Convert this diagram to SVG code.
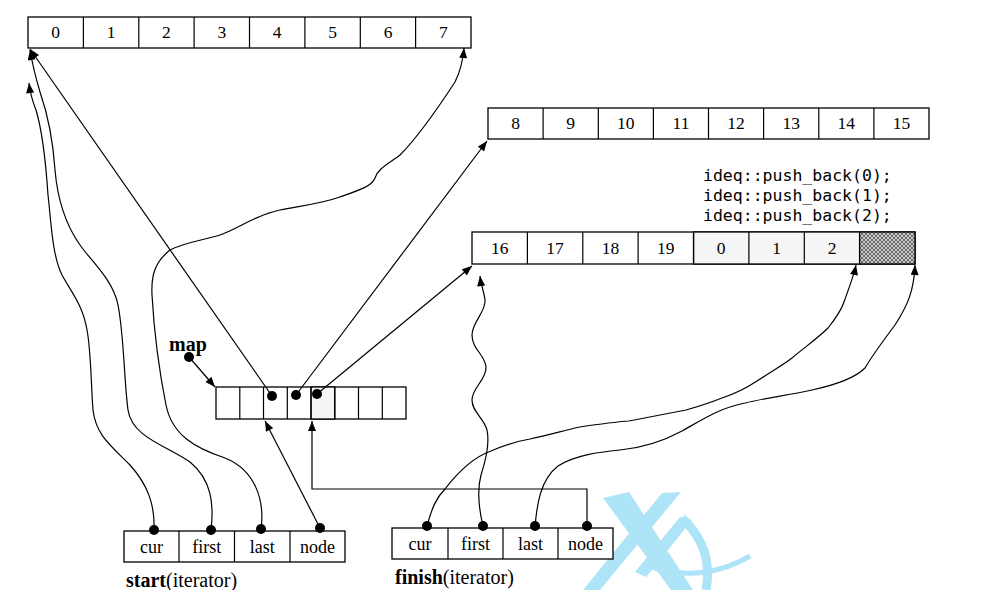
<svg xmlns="http://www.w3.org/2000/svg" width="986" height="590" viewBox="0 0 986 590">
<style>
.cell{fill:#fff;stroke:#000;stroke-width:1.3}
.lite{fill:#f5f5f5;stroke:#000;stroke-width:1.3}
.hatch{fill:url(#xh);stroke:#000;stroke-width:1.3}
.num{font-family:"Liberation Serif",serif;font-size:17.5px;text-anchor:middle;fill:#000}
.lbl{font-family:"Liberation Serif",serif;font-size:18px;text-anchor:middle;fill:#000}
.cap{font-family:"Liberation Serif",serif;font-size:20px;fill:#000}
.b{font-weight:bold}
.code{font-family:"DejaVu Sans Mono","Liberation Mono",monospace;font-size:16.5px;fill:#000}
.ln{fill:none;stroke:#000;stroke-width:1.2}
.dot{fill:#000}
.wm{fill:#aee4f8;stroke:none}
.wms{fill:none;stroke:#aee4f8}
</style>
<defs>
<marker id="arr" viewBox="0 0 10 8" refX="10" refY="4" markerWidth="11" markerHeight="8" markerUnits="userSpaceOnUse" orient="auto">
<path d="M0,0 L10,4 L0,8 z" fill="#000"/>
</marker>
<pattern id="xh" width="4" height="4" patternUnits="userSpaceOnUse">
<rect width="4" height="4" fill="#c8c8c8"/>
<path d="M0,0 L4,4 M4,0 L0,4" stroke="#555" stroke-width="0.8"/>
</pattern>
</defs>

<g id="watermark">
<polygon class="wm" points="603,498 629,492 693,590 671,590"/>
<polygon class="wm" points="662,493 681,492 600,590 583,590"/>
<polygon class="wm" points="635,572 646,577 692,520 680,517"/>
<path class="wms" stroke-width="9" d="M682,518 Q714,548 706,590"/>
<path class="wms" stroke-width="5" d="M645,565 Q700,585 750,556"/>
</g>

<g id="block0">
<rect class="cell" x="28" y="17" width="443" height="31"/>
<path class="ln" stroke-width="1.3" d="M83.4,17V48M138.8,17V48M194.1,17V48M249.5,17V48M304.9,17V48M360.3,17V48M415.6,17V48"/>
<text class="num" x="55.7" y="38">0</text>
<text class="num" x="111.1" y="38">1</text>
<text class="num" x="166.4" y="38">2</text>
<text class="num" x="221.8" y="38">3</text>
<text class="num" x="277.2" y="38">4</text>
<text class="num" x="332.6" y="38">5</text>
<text class="num" x="388" y="38">6</text>
<text class="num" x="443.3" y="38">7</text>
</g>

<g id="block1">
<rect class="cell" x="488" y="108" width="441" height="31"/>
<path class="ln" stroke-width="1.3" d="M543.1,108V139M598.3,108V139M653.4,108V139M708.5,108V139M763.6,108V139M818.8,108V139M873.9,108V139"/>
<text class="num" x="515.6" y="129">8</text>
<text class="num" x="570.7" y="129">9</text>
<text class="num" x="625.8" y="129">10</text>
<text class="num" x="681" y="129">11</text>
<text class="num" x="736.1" y="129">12</text>
<text class="num" x="791.2" y="129">13</text>
<text class="num" x="846.3" y="129">14</text>
<text class="num" x="901.5" y="129">15</text>
</g>

<g id="code">
<text class="code" x="703" y="181">ideq::push_back(0);</text>
<text class="code" x="703" y="201">ideq::push_back(1);</text>
<text class="code" x="703" y="221">ideq::push_back(2);</text>
</g>

<g id="block2">
<rect class="cell" x="472" y="232" width="443" height="32"/>
<rect class="lite" x="693.6" y="232" width="166.2" height="32"/>
<rect class="hatch" x="859.6" y="232" width="55.4" height="32"/>
<path class="ln" stroke-width="1.3" d="M527.4,232V264M582.8,232V264M638.1,232V264M693.5,232V264M748.9,232V264M804.3,232V264"/>
<text class="num" x="499.7" y="254">16</text>
<text class="num" x="555.1" y="254">17</text>
<text class="num" x="610.4" y="254">18</text>
<text class="num" x="665.8" y="254">19</text>
<text class="num" x="721.2" y="254">0</text>
<text class="num" x="776.6" y="254">1</text>
<text class="num" x="832" y="254">2</text>
</g>

<g id="map">
<text class="cap b" x="169" y="351">map</text>
<circle class="dot" cx="189" cy="357" r="5"/>
<rect class="cell" x="216" y="387" width="190" height="32"/>
<rect class="lite" x="311" y="387" width="23.7" height="32"/>
<path class="ln" stroke-width="1.3" d="M239.8,387V419M263.5,387V419M287.3,387V419M311,387V419M334.8,387V419M358.5,387V419M382.3,387V419"/>
<circle class="dot" cx="272" cy="396" r="5"/>
<circle class="dot" cx="296" cy="395" r="5"/>
<circle class="dot" cx="317" cy="394" r="5"/>
</g>

<g id="start">
<rect class="cell" x="124" y="531" width="221" height="31"/>
<path class="ln" stroke-width="1.3" d="M179,531V562M234.5,531V562M290,531V562"/>
<text class="lbl" x="151.5" y="553">cur</text>
<text class="lbl" x="206.7" y="553">first</text>
<text class="lbl" x="262.2" y="553">last</text>
<text class="lbl" x="317.5" y="553">node</text>
<text class="cap" x="126" y="587"><tspan class="b">start</tspan>(iterator)</text>
<circle class="dot" cx="154" cy="530" r="5"/>
<circle class="dot" cx="211" cy="530" r="5"/>
<circle class="dot" cx="261" cy="529" r="5"/>
<circle class="dot" cx="320" cy="528" r="5"/>
</g>

<g id="finish">
<rect class="cell" x="392" y="528" width="221" height="31"/>
<path class="ln" stroke-width="1.3" d="M448,528V559M503,528V559M558,528V559"/>
<text class="lbl" x="420" y="550">cur</text>
<text class="lbl" x="475.5" y="550">first</text>
<text class="lbl" x="530.5" y="550">last</text>
<text class="lbl" x="585.5" y="550">node</text>
<text class="cap" x="395" y="584"><tspan class="b">finish</tspan>(iterator)</text>
<circle class="dot" cx="427" cy="526" r="5"/>
<circle class="dot" cx="483" cy="526" r="5"/>
<circle class="dot" cx="535" cy="526" r="5"/>
<circle class="dot" cx="587" cy="526" r="5"/>
</g>

<g id="connectors">
<path class="ln" marker-end="url(#arr)" d="M189,357 L215,387"/>
<path class="ln" marker-end="url(#arr)" d="M272,396 L30,49"/>
<path class="ln" marker-end="url(#arr)" d="M296,395 L487,141"/>
<path class="ln" marker-end="url(#arr)" d="M317,394 L472,266"/>
<path class="ln" marker-end="url(#arr)" d="M320,528 L265,421"/>
<path class="ln" marker-end="url(#arr)" d="M587,526 V489 H312 V421"/>
<path class="ln" marker-end="url(#arr)" d="M154,530 C155,505 148,485 130,465 C110,445 96,435 93,410 C91,385 91,350 87,330 C83,305 70,290 62,275 C52,255 51,220 48,195 C46,165 42,130 36,110 C32,100 30,92 29,83"/>
<path class="ln" marker-end="url(#arr)" d="M211,530 C214,505 212,480 190,462 C165,445 132,437 128,410 C124,380 124,335 118,305 C113,280 92,262 80,245 C68,228 58,205 55,170 C53,140 48,115 40,92 C35,75 32,62 30,50"/>
<path class="ln" marker-end="url(#arr)" d="M261,529 C265,500 255,470 225,458 C195,448 172,435 166,405 C160,375 154,330 152,295 C151,275 155,262 170,250 C185,242 205,240 220,235 C240,228 255,215 280,210 C300,206 320,204 340,197 C360,190 372,186 375,178 C378,168 390,163 400,155 C420,135 440,105 455,82 C460,72 463,60 464,48"/>
<path class="ln" marker-end="url(#arr)" d="M427,526 C432,508 436,498 445,489 C458,472 474,457 491,451 C505,445 518,441 530,439 C550,435 565,430 580,427 C600,424 615,422 629,421 C645,418 665,414 686,410 C700,406 712,402 722,398 C740,392 748,387 757,381 C772,371 783,365 792,358 C805,347 818,338 828,328 C836,318 841,311 844,302 C850,285 854,275 856,265"/>
<path class="ln" marker-end="url(#arr)" d="M483,526 C478,505 477,490 481,475 C485,462 490,445 487,430 C484,418 472,412 472,400 C472,388 486,380 486,368 C486,355 472,350 472,335 C472,322 486,312 485,300 C484,292 481,285 480,276"/>
<path class="ln" marker-end="url(#arr)" d="M535,526 C537,505 540,480 558,466 C575,455 600,452 620,450 C640,448 660,443 682,431 C705,418 720,408 745,403 C765,398 790,395 812,390 C835,385 855,378 865,368 C872,356 880,345 895,325 C908,305 914,290 915,265"/>
</g>
</svg>
